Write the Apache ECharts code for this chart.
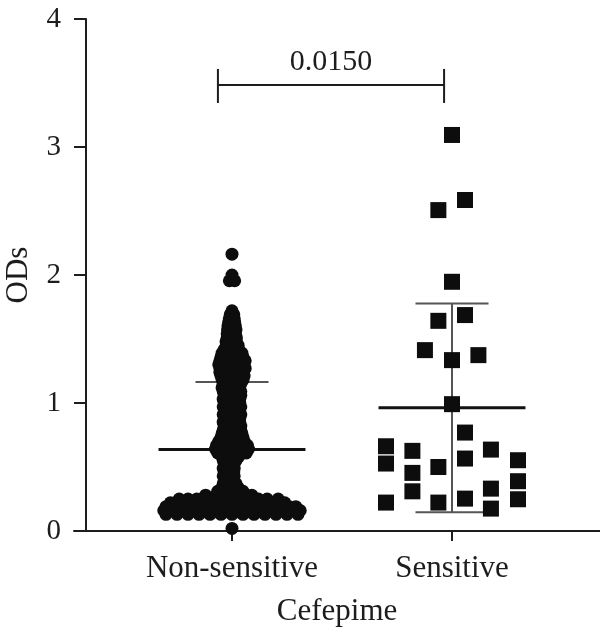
<!DOCTYPE html>
<html>
<head>
<meta charset="utf-8">
<script src="https://cdn.jsdelivr.net/npm/echarts@6/dist/echarts.min.js"></script>
<style>html,body{margin:0;padding:0;background:#fff}#c{width:600px;height:631px}</style>
</head>
<body>
<div id="c"></div>
<script>
// ---- data ----
const categories = ['Non-sensitive', 'Sensitive'];
const categoryPositions = [1, 2];
const yTicks = [0, 1, 2, 3, 4];
const xAxisTitle = 'Cefepime';
const yAxisTitle = 'ODs';
const pValueText = '0.0150';

// Non-sensitive group: rows of [OD value, horizontal jitter offsets of points in that row]
const nonSensitiveRows = [
  [2.163, [0]],
  [2.0, [0]],
  [1.955, [-0.012, 0.012]],
  [1.72, [0]],
  [1.69, [-0.008, 0.008]],
  [1.66, [-0.012, 0.01]],
  [1.63, [-0.015, 0.012]],
  [1.60, [-0.018, 0.015]],
  [1.57, [-0.02, 0.0, 0.018]],
  [1.54, [-0.022, 0.016]],
  [1.51, [-0.022, 0.0, 0.02]],
  [1.48, [-0.027, 0.02]],
  [1.45, [-0.025, 0.005, 0.028]],
  [1.42, [-0.035, 0.0, 0.03]],
  [1.39, [-0.045, -0.012, 0.02, 0.045]],
  [1.36, [-0.05, -0.018, 0.015, 0.05]],
  [1.33, [-0.055, -0.022, 0.01, 0.045, 0.06]],
  [1.30, [-0.06, -0.025, 0.015, 0.055]],
  [1.27, [-0.055, -0.018, 0.02, 0.06]],
  [1.24, [-0.055, -0.02, 0.015, 0.05]],
  [1.21, [-0.05, -0.012, 0.025, 0.055]],
  [1.18, [-0.045, -0.01, 0.025, 0.05]],
  [1.15, [-0.04, 0.0, 0.04]],
  [1.12, [-0.045, -0.005, 0.035]],
  [1.09, [-0.04, 0.0, 0.04]],
  [1.06, [-0.035, 0.005, 0.04]],
  [1.03, [-0.04, 0.0, 0.035]],
  [1.00, [-0.035, 0.0, 0.035]],
  [0.97, [-0.04, 0.005, 0.04]],
  [0.94, [-0.035, 0.0, 0.035]],
  [0.91, [-0.04, 0.0, 0.04]],
  [0.88, [-0.035, 0.005, 0.035]],
  [0.85, [-0.04, 0.0, 0.035]],
  [0.82, [-0.035, 0.0, 0.04]],
  [0.79, [-0.04, 0.005, 0.04]],
  [0.76, [-0.045, 0.0, 0.045]],
  [0.73, [-0.05, -0.012, 0.025, 0.05]],
  [0.70, [-0.06, -0.02, 0.02, 0.055]],
  [0.67, [-0.07, -0.03, 0.0, 0.035, 0.07]],
  [0.64, [-0.075, -0.035, 0.0, 0.035, 0.075]],
  [0.61, [-0.065, -0.025, 0.01, 0.045, 0.065]],
  [0.58, [-0.045, -0.01, 0.03]],
  [0.55, [-0.04, -0.01, 0.018]],
  [0.52, [-0.035, 0.008]],
  [0.49, [-0.04, -0.01, 0.01]],
  [0.46, [-0.035, 0.008]],
  [0.43, [-0.04, -0.01, 0.01]],
  [0.40, [-0.035, 0.008]],
  [0.37, [-0.04, -0.005, 0.018]],
  [0.34, [-0.045, -0.005, 0.028]],
  [0.31, [-0.065, -0.025, 0.01, 0.05]],
  [0.28, [-0.12, -0.07, -0.03, 0.01, 0.05, 0.09]],
  [0.25, [-0.24, -0.2, -0.16, -0.12, -0.08, -0.04, 0.0, 0.04, 0.08, 0.12, 0.16, 0.21]],
  [0.22, [-0.28, -0.24, -0.2, -0.16, -0.12, -0.08, -0.04, 0.0, 0.04, 0.08, 0.12, 0.16, 0.2, 0.24]],
  [0.19, [-0.3, -0.26, -0.22, -0.18, -0.14, -0.1, -0.06, -0.02, 0.02, 0.06, 0.1, 0.14, 0.18, 0.22, 0.26, 0.29]],
  [0.16, [-0.31, -0.27, -0.23, -0.19, -0.15, -0.11, -0.07, -0.03, 0.01, 0.05, 0.09, 0.13, 0.17, 0.21, 0.25, 0.29, 0.31]],
  [0.13, [-0.3, -0.25, -0.2, -0.15, -0.1, -0.05, 0.0, 0.05, 0.1, 0.15, 0.2, 0.25, 0.3]],
  [0.02, [0]]
];

// Sensitive group: [x position (with jitter), OD value]
const sensitivePoints = [
  [2.0, 3.094], [1.938, 2.507], [2.059, 2.586], [2.0, 1.947],
  [1.938, 1.642], [2.059, 1.687], [1.877, 1.413], [2.0, 1.335], [2.12, 1.374],
  [2.0, 0.991], [2.059, 0.769],
  [1.70, 0.662], [1.70, 0.527], [1.70, 0.222],
  [1.82, 0.626], [1.82, 0.454], [1.82, 0.310],
  [1.938, 0.500], [1.938, 0.222],
  [2.059, 0.566], [2.059, 0.253],
  [2.177, 0.636], [2.177, 0.331], [2.177, 0.175],
  [2.30, 0.553], [2.30, 0.389], [2.30, 0.248]
];

// mean and SD per group: [position, mean, sd]
const groupStats = [
  [1, 0.636, 0.529],
  [2, 0.962, 0.815]
];

// significance bracket: [left x, right x, bar y, end low y, end high y, label y]
const bracket = [[0.936, 1.964, 3.485, 3.344, 3.61, 3.66]];

// ---- build ----
const nonSensitivePoints = [];
nonSensitiveRows.forEach(function (row) {
  row[1].forEach(function (off) { nonSensitivePoints.push([categoryPositions[0] + off, row[0]]); });
});

const FONT = '"Liberation Serif", "Times New Roman", serif';
const INK = '#1e1c1d';

const chart = echarts.init(document.getElementById('c'), null, { renderer: 'canvas' });
chart.setOption({
  animation: false,
  backgroundColor: '#fff',
  grid: { left: 74, right: 0, top: 19, bottom: 100, containLabel: false, outerBoundsMode: 'none' },
  xAxis: {
    type: 'value',
    min: 0.28182,
    max: 2.67273,
    splitLine: { show: false },
    axisLine: { show: true, onZero: false, lineStyle: { color: INK, width: 2 } },
    axisTick: { show: true, customValues: categoryPositions, length: 10, lineStyle: { color: INK, width: 2 } },
    axisLabel: {
      customValues: categoryPositions,
      formatter: function (v) { const i = categoryPositions.indexOf(v); return i >= 0 ? categories[i] : ''; },
      fontFamily: FONT, fontSize: 31, color: INK, margin: 22
    },
    name: xAxisTitle,
    nameLocation: 'middle',
    nameGap: 65,
    nameTextStyle: { fontFamily: FONT, fontSize: 31, color: INK }
  },
  yAxis: {
    type: 'value',
    min: 0, max: 4, interval: 1,
    offset: -12,
    splitLine: { show: false },
    axisLine: { show: true, lineStyle: { color: INK, width: 2 } },
    axisTick: { show: true, length: 12, lineStyle: { color: INK, width: 2 } },
    axisLabel: {
      fontFamily: FONT, fontSize: 29, color: INK, margin: 25,
      formatter: function (v) { return yTicks.indexOf(v) >= 0 ? String(v) : ''; }
    },
    name: yAxisTitle,
    nameLocation: 'middle',
    nameGap: 52,
    nameRotate: 90,
    nameTextStyle: { fontFamily: FONT, fontSize: 31, color: INK }
  },
  series: [
    {
      type: 'custom',
      z: 1,
      data: groupStats,
      renderItem: function (params, api) {
        const x = api.value(0), m = api.value(1), sd = api.value(2);
        const pL = api.coord([x - 0.334, m]), pR = api.coord([x + 0.334, m]);
        const top = api.coord([x, m + sd]), bot = api.coord([x, m - sd]);
        const cTL = api.coord([x - 0.166, m + sd]), cTR = api.coord([x + 0.166, m + sd]);
        const cBL = api.coord([x - 0.166, m - sd]), cBR = api.coord([x + 0.166, m - sd]);
        const sdStyle = { stroke: '#555', lineWidth: 2 };
        return {
          type: 'group',
          children: [
            { type: 'line', shape: { x1: top[0], y1: top[1], x2: bot[0], y2: bot[1] }, style: sdStyle },
            { type: 'line', shape: { x1: cTL[0], y1: cTL[1], x2: cTR[0], y2: cTR[1] }, style: sdStyle },
            { type: 'line', shape: { x1: cBL[0], y1: cBL[1], x2: cBR[0], y2: cBR[1] }, style: sdStyle },
            { type: 'line', shape: { x1: pL[0], y1: pL[1], x2: pR[0], y2: pR[1] }, style: { stroke: '#111', lineWidth: 3 } }
          ]
        };
      }
    },
    {
      type: 'scatter',
      z: 3,
      symbol: 'circle',
      symbolSize: 13,
      itemStyle: { color: '#0d0d0d', opacity: 1 },
      data: nonSensitivePoints
    },
    {
      type: 'scatter',
      z: 3,
      symbol: 'rect',
      symbolSize: 16,
      itemStyle: { color: '#0d0d0d', opacity: 1 },
      data: sensitivePoints
    },
    {
      type: 'custom',
      z: 4,
      clip: false,
      data: bracket,
      renderItem: function (params, api) {
        const x1 = api.value(0), x2 = api.value(1), yb = api.value(2), ylo = api.value(3), yhi = api.value(4), yt = api.value(5);
        const a = api.coord([x1, yb]), b = api.coord([x2, yb]);
        const aLo = api.coord([x1, ylo]), aHi = api.coord([x1, yhi]);
        const bLo = api.coord([x2, ylo]), bHi = api.coord([x2, yhi]);
        const t = api.coord([(x1 + x2) / 2, yt]);
        const st = { stroke: INK, lineWidth: 2 };
        return {
          type: 'group',
          children: [
            { type: 'line', shape: { x1: a[0], y1: a[1], x2: b[0], y2: b[1] }, style: st },
            { type: 'line', shape: { x1: aLo[0], y1: aLo[1], x2: aHi[0], y2: aHi[1] }, style: st },
            { type: 'line', shape: { x1: bLo[0], y1: bLo[1], x2: bHi[0], y2: bHi[1] }, style: st },
            { type: 'text', x: t[0], y: t[1], style: { text: pValueText, fill: INK, font: '30px ' + FONT, align: 'center', verticalAlign: 'middle' } }
          ]
        };
      }
    }
  ]
});
</script>
</body>
</html>
